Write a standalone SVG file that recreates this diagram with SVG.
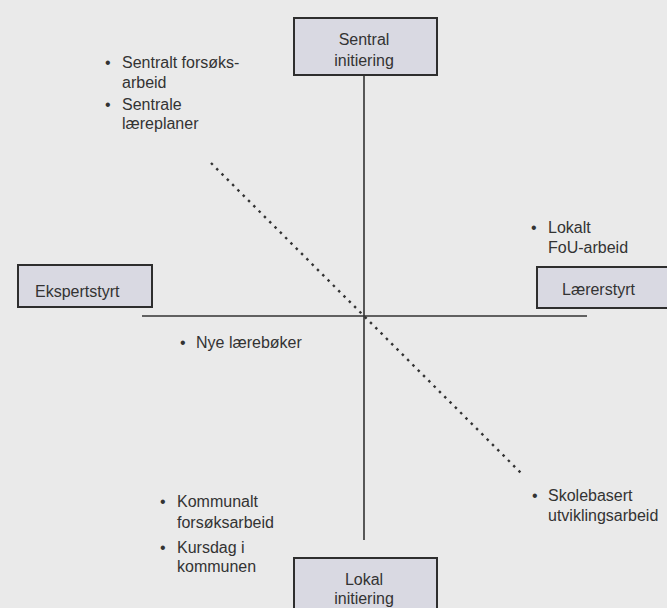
<svg xmlns="http://www.w3.org/2000/svg" width="667" height="608" viewBox="0 0 667 608">
<style>
  .bg{fill:#eaeaea}
  .box rect{fill:#d9d9e2;stroke:#2e2e2e;stroke-width:2}
  text{font-family:"Liberation Sans",Arial,sans-serif;font-size:16px;fill:#333}
  .c{text-anchor:middle}
  .axis{stroke:#333;stroke-width:1.6;fill:none}
  .diag{stroke:#333;stroke-width:2.4;stroke-dasharray:2.5 5;fill:none}
</style>
<rect class="bg" x="0" y="0" width="667" height="608"/>
<g id="connectors">
  <line class="axis" x1="364" y1="75" x2="364" y2="540"/>
  <line class="axis" x1="142" y1="316" x2="587" y2="316"/>
  <line class="diag" x1="211" y1="163" x2="521" y2="473"/>
</g>
<g id="sentral" class="box">
  <rect x="294" y="18" width="143" height="57"/>
  <text class="c" x="364" y="45">Sentral</text>
  <text class="c" x="364" y="66">initiering</text>
</g>
<g id="lokal" class="box">
  <rect x="294" y="558" width="143" height="62"/>
  <text class="c" x="364" y="585">Lokal</text>
  <text class="c" x="364" y="604">initiering</text>
</g>
<g id="ekspertstyrt" class="box">
  <rect x="18" y="265" width="134" height="42"/>
  <text x="35" y="297">Ekspertstyrt</text>
</g>
<g id="lærerstyrt" class="box">
  <rect x="537" y="267" width="140" height="41"/>
  <text x="562" y="295">Lærerstyrt</text>
</g>
<g id="sentralt-tiltak">
  <text x="105" y="68">•</text><text x="122" y="68">Sentralt forsøks-</text>
  <text x="122" y="88">arbeid</text>
  <text x="105" y="110">•</text><text x="122" y="110">Sentrale</text>
  <text x="122" y="129">læreplaner</text>
</g>
<g id="lokalt-fou">
  <text x="531" y="233">•</text><text x="548" y="233">Lokalt</text>
  <text x="548" y="253">FoU-arbeid</text>
</g>
<g id="nye-laereboker">
  <text x="180" y="348">•</text><text x="196" y="348">Nye lærebøker</text>
</g>
<g id="skolebasert">
  <text x="532" y="501">•</text><text x="548" y="501">Skolebasert</text>
  <text x="548" y="521">utviklingsarbeid</text>
</g>
<g id="kommunalt">
  <text x="160" y="507">•</text><text x="177" y="507">Kommunalt</text>
  <text x="177" y="528">forsøksarbeid</text>
  <text x="160" y="553">•</text><text x="177" y="553">Kursdag i</text>
  <text x="177" y="572">kommunen</text>
</g>
</svg>
